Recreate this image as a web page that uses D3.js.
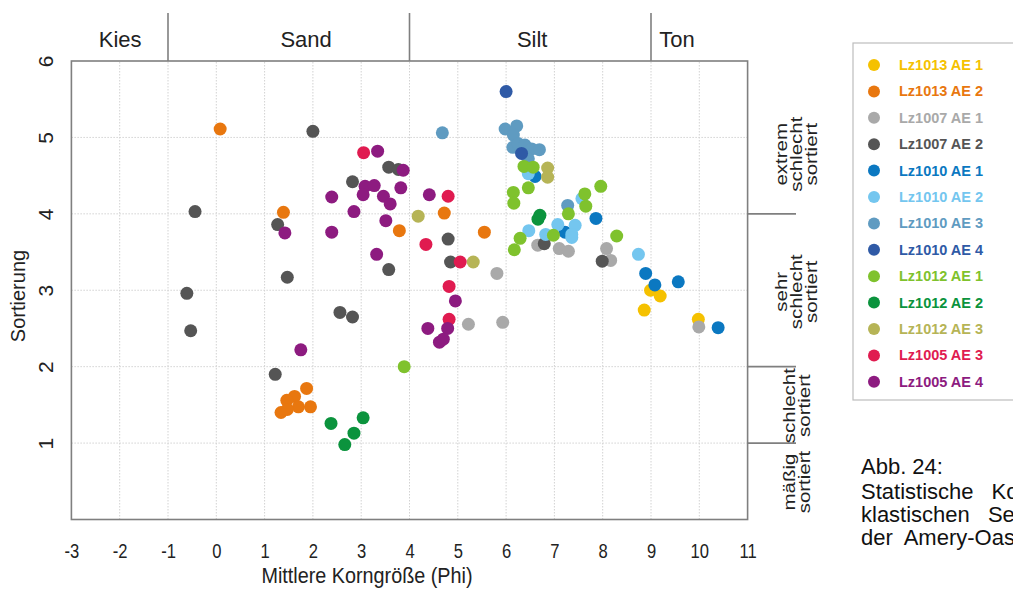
<!DOCTYPE html>
<html>
<head>
<meta charset="utf-8">
<script src="https://cdn.jsdelivr.net/npm/d3@7"></script>
<style>
  body { margin: 0; background: #fff; }
  svg { display: block; font-family: "Liberation Sans", Arial, Helvetica, sans-serif; }
</style>
</head>
<body>
<svg id="chart" width="1013" height="590"></svg>
<script>
// ---------------- data ----------------
var seriesNames = ["Lz1013 AE 1", "Lz1013 AE 2", "Lz1007 AE 1", "Lz1007 AE 2", "Lz1010 AE 1", "Lz1010 AE 2",
  "Lz1010 AE 3", "Lz1010 AE 4", "Lz1012 AE 1", "Lz1012 AE 2", "Lz1012 AE 3", "Lz1005 AE 3", "Lz1005 AE 4"];
var seriesColors = ["#f5c100", "#e8770f", "#a9a9a9", "#555555", "#0b78c1", "#74c6ef",
  "#5f9bc1", "#2f5aa6", "#7fc22d", "#0b933d", "#b6b456", "#e01b50", "#8d1b80"];

// [mittlere Korngröße (phi), Sortierung]
var lz1013ae1 = [[8.99,3.0],[9.19,2.925],[8.86,2.74],[9.98,2.62]];
var lz1013ae2 = [[0.08,5.11],[1.39,4.02],[3.79,3.78],[4.72,4.01],[5.55,3.76],[1.87,1.715],[1.62,1.61],
  [1.46,1.56],[1.70,1.475],[1.95,1.475],[1.34,1.40],[1.47,1.44]];
var lz1007ae1 = [[6.655,3.59],[7.10,3.545],[7.29,3.51],[8.08,3.545],[8.165,3.39],[5.81,3.22],[5.22,2.555],
  [5.93,2.58],[9.99,2.52]];
var lz1007ae2 = [[2.0,5.08],[3.57,4.61],[3.77,4.58],[2.82,4.42],[-0.44,4.03],[1.27,3.86],[4.80,3.67],
  [4.85,3.37],[3.57,3.27],[1.47,3.17],[-0.61,2.96],[-0.53,2.47],[2.56,2.71],[2.82,2.65],[1.22,1.90],
  [6.79,3.61],[7.99,3.38]];
var lz1010ae1 = [[6.60,4.49],[7.86,3.94],[7.22,3.76],[8.89,3.22],[9.08,3.07],[9.565,3.11],[10.39,2.51]];
var lz1010ae2 = [[6.46,4.525],[7.57,4.20],[7.07,3.86],[7.43,3.85],[7.36,3.73],[7.36,3.69],[6.47,3.78],
  [6.82,3.73],[8.74,3.47]];
var lz1010ae3 = [[4.68,5.06],[5.98,5.11],[6.22,5.15],[6.15,5.03],[6.14,4.87],[6.25,4.92],[6.39,4.90],
  [6.53,4.85],[6.69,4.84],[6.46,4.72],[7.275,4.11]];
var lz1010ae4 = [[6.0,5.6],[6.32,4.79]];
var lz1012ae1 = [[6.37,4.62],[6.56,4.61],[6.46,4.34],[6.15,4.28],[6.16,4.14],[7.96,4.36],[7.63,4.26],
  [7.65,4.10],[7.29,4.0],[6.98,3.72],[6.29,3.68],[6.17,3.53],[8.29,3.71],[3.89,2.0]];
var lz1012ae2 = [[2.375,1.257],[3.04,1.33],[2.85,1.13],[2.66,0.98],[6.70,3.98],[6.66,3.93]];
var lz1012ae3 = [[4.18,3.97],[5.32,3.37],[6.86,4.60],[6.86,4.48]];
var lz1005ae3 = [[3.05,4.80],[4.80,4.23],[4.34,3.60],[5.05,3.37],[4.82,3.05],[4.82,2.62]];
var lz1005ae4 = [[3.34,4.82],[3.87,4.57],[3.08,4.36],[3.27,4.37],[3.04,4.25],[3.46,4.23],[3.60,4.13],
  [3.82,4.34],[4.41,4.25],[2.39,4.22],[2.85,4.03],[1.42,3.75],[2.39,3.76],[3.51,3.91],[3.32,3.47],
  [1.75,2.22],[4.95,2.86],[4.38,2.50],[4.79,2.50],[4.62,2.32],[4.70,2.36]];

var seriesPoints = [lz1013ae1, lz1013ae2, lz1007ae1, lz1007ae2, lz1010ae1, lz1010ae2, lz1010ae3,
  lz1010ae4, lz1012ae1, lz1012ae2, lz1012ae3, lz1005ae3, lz1005ae4];

var xTickValues = [-3, -2, -1, 0, 1, 2, 3, 4, 5, 6, 7, 8, 9, 10, 11];
var yTickValues = [1, 2, 3, 4, 5, 6];
var xGrid = [-2, -1, 0, 1, 2, 3, 4, 5, 6, 7, 8, 9, 10];
var yGrid = [1, 2, 3, 4, 5];

// grain size classes (top) and sorting classes (right)
var sizeClasses = ["Kies", "Sand", "Silt", "Ton"];
var sizeClassX = [-1.99, 1.86, 6.54, 9.54];
var sizeBounds = [-1, 4, 9];
var sortClasses = [["extrem", "schlecht", "sortiert"], ["sehr", "schlecht", "sortiert"],
  ["schlecht", "sortiert"], ["mäßig", "sortiert"]];
var sortClassY = [4.78, 2.98, 1.49, 0.49];
var sortBounds = [4, 2, 1];

var captionLines = ["Abb. 24:", "Statistische Korngrößenparameter", "klastischen Sedimente", "der Amery-Oase"];

// ---------------- chart ----------------
var svg = d3.select("#chart");
var frameCol = "#7f7f7f";

var x = d3.scaleLinear().domain([-3, 11]).range([71.4, 747.6]);
var y = d3.scaleLinear().domain([0, 6]).range([519.5, 61]);

// grid
svg.append("g").selectAll("line").data(xGrid).enter().append("line")
  .attr("x1", function(d){ return x(d); }).attr("x2", function(d){ return x(d); })
  .attr("y1", y(0)).attr("y2", y(6))
  .attr("stroke", "#d2d2d2").attr("stroke-width", 1).attr("stroke-dasharray", "1.5,1.5");
svg.append("g").selectAll("line").data(yGrid).enter().append("line")
  .attr("y1", function(d){ return y(d); }).attr("y2", function(d){ return y(d); })
  .attr("x1", x(-3)).attr("x2", x(11))
  .attr("stroke", "#d2d2d2").attr("stroke-width", 1).attr("stroke-dasharray", "1.5,1.5");

// frame
svg.append("rect")
  .attr("x", x(-3)).attr("y", y(6))
  .attr("width", x(11) - x(-3)).attr("height", y(0) - y(6))
  .attr("fill", "none").attr("stroke", frameCol).attr("stroke-width", 1.6);

// class dividers on top
svg.append("g").selectAll("line").data(sizeBounds).enter().append("line")
  .attr("x1", function(d){ return x(d); }).attr("x2", function(d){ return x(d); })
  .attr("y1", y(6)).attr("y2", 13)
  .attr("stroke", frameCol).attr("stroke-width", 1.6);
svg.append("g").selectAll("text").data(sizeClasses).enter().append("text")
  .attr("x", function(d, i){ return x(sizeClassX[i]); }).attr("y", 47)
  .attr("text-anchor", "middle").attr("font-size", 22).attr("fill", "#222")
  .text(function(d){ return d; });

// class dividers on the right
svg.append("g").selectAll("line").data(sortBounds).enter().append("line")
  .attr("y1", function(d){ return y(d); }).attr("y2", function(d){ return y(d); })
  .attr("x1", x(11)).attr("x2", 796)
  .attr("stroke", frameCol).attr("stroke-width", 1.6);
// each line of the sorting labels is rotated on its own
sortClasses.forEach(function(lines, i){
  lines.forEach(function(s, k){
    var bx = 787 + 15 * k + (3 - lines.length) * 7.5;
    svg.append("text")
      .attr("transform", "translate(" + bx + "," + y(sortClassY[i]) + ") rotate(-90) scale(1,0.8)")
      .attr("text-anchor", "middle").attr("font-size", 20.5).attr("fill", "#222")
      .text(s);
  });
});

// axes
var xAxis = d3.axisBottom(x).tickValues(xTickValues).tickSize(0).tickPadding(0)
  .tickFormat(function(d){ return String(d); });
var gx = svg.append("g").attr("transform", "translate(0," + 558 + ")").call(xAxis);
gx.select(".domain").remove();
gx.selectAll("text")
  .attr("y", 0).attr("dy", 0)
  .attr("font-size", 19.5).attr("fill", "#222")
  .attr("font-family", "\"Liberation Sans\", Arial, sans-serif")
  .attr("transform", "scale(0.85,1)");

var yAxis = d3.axisLeft(y).tickValues(yTickValues).tickSize(0).tickFormat(function(d){ return String(d); });
var gy = svg.append("g").attr("transform", "translate(" + x(-3) + ",0)").call(yAxis);
gy.select(".domain").remove();
gy.selectAll("text")
  .attr("x", 0).attr("dy", 0)
  .attr("text-anchor", "middle")
  .attr("font-size", 21).attr("fill", "#222")
  .attr("font-family", "\"Liberation Sans\", Arial, sans-serif")
  .attr("transform", "translate(-18,0) rotate(-90)");

svg.append("text")
  .attr("transform", "translate(367,583) scale(0.9,1)")
  .attr("text-anchor", "middle").attr("font-size", 22).attr("fill", "#222")
  .text("Mittlere Korngröße (Phi)");

svg.append("text")
  .attr("transform", "translate(25,296) rotate(-90)")
  .attr("text-anchor", "middle").attr("font-size", 20).attr("fill", "#222")
  .text("Sortierung");

// points
var gPts = svg.append("g");
seriesPoints.forEach(function(pts, i){
  gPts.selectAll(".s" + i).data(pts).enter().append("circle")
    .attr("class", "s" + i)
    .attr("cx", function(d){ return x(d[0]); })
    .attr("cy", function(d){ return y(d[1]); })
    .attr("r", 6.5)
    .attr("fill", seriesColors[i]);
});

// legend
var legend = svg.append("g").attr("transform", "translate(853,43)");
legend.append("rect").attr("width", 200).attr("height", 357)
  .attr("fill", "#fff").attr("stroke", "#bdbdbd").attr("stroke-width", 1.2);
var rows = legend.selectAll(".row").data(seriesNames).enter().append("g")
  .attr("transform", function(d, i){ return "translate(0," + (22 + i * 26.4) + ")"; });
rows.append("circle").attr("cx", 21).attr("cy", 0).attr("r", 6)
  .attr("fill", function(d, i){ return seriesColors[i]; });
rows.append("text").attr("x", 46).attr("y", 5)
  .attr("font-size", 14.5).attr("font-weight", "bold")
  .attr("fill", function(d, i){ return seriesColors[i]; })
  .text(function(d){ return d; });

// caption (justified in the original, cut at the right edge)
var capBase = [474, 499, 522, 545];
var capWordSpacing = [0, 12, 12, 6];
svg.append("g").selectAll("text").data(captionLines).enter().append("text")
  .attr("x", 861).attr("y", function(d, i){ return capBase[i]; })
  .attr("font-size", 22).attr("fill", "#111")
  .attr("word-spacing", function(d, i){ return capWordSpacing[i]; })
  .text(function(d){ return d; });
</script>
</body>
</html>
